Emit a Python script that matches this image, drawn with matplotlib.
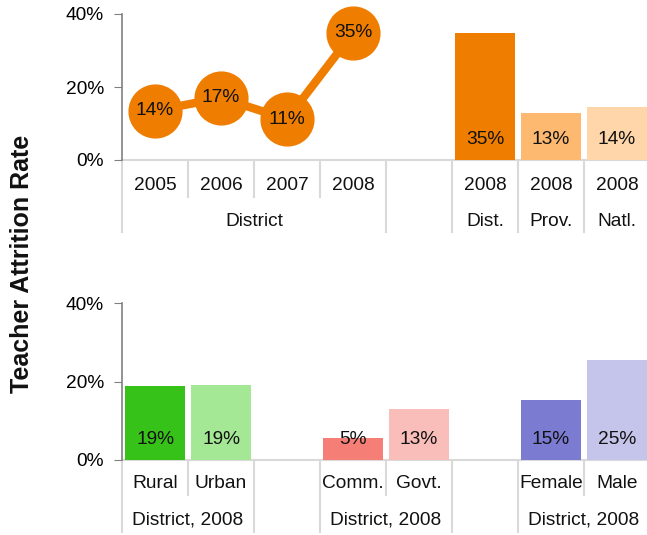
import matplotlib.pyplot as plt
from matplotlib import transforms

plt.rcParams['font.family'] = ['Liberation Sans', 'DejaVu Sans']

# top panel data
years = ['2005', '2006', '2007', '2008']
district_trend = [13.5, 17.0, 11.2, 34.8]
trend_labels = ['14%', '17%', '11%', '35%']
compare_top = ['2008', '2008', '2008']
compare_bottom = ['Dist.', 'Prov.', 'Natl.']
compare_values = [34.8, 12.9, 14.5]
compare_labels = ['35%', '13%', '14%']
compare_colors = ['#EF7D00', '#FDB96F', '#FED6A9']

# bottom panel data
groups = ['Rural', 'Urban', '', 'Comm.', 'Govt.', '', 'Female', 'Male']
group_values = [18.8, 19.1, None, 5.6, 13.0, None, 15.3, 25.4]
group_labels = ['19%', '19%', '', '5%', '13%', '', '15%', '25%']
group_colors = ['#37C21A', '#A4E795', None, '#F57F76', '#F9BEBA', None, '#7B7BD2', '#C5C4EA']
group_names = ['District, 2008', 'District, 2008', 'District, 2008']

yticks = [0, 20, 40]
ytick_labels = ['0%', '20%', '40%']

W, H = 647, 535
fig = plt.figure(figsize=(W / 100, H / 100), dpi=100)

ORANGE = '#EF7D00'
GRID = '#D9D9D9'
FS = 13.8


def make_axes(top_px, bottom_px):
    ax = fig.add_axes([122 / W, 1 - bottom_px / H, 528 / W, (bottom_px - top_px) / H])
    ax.set_xlim(-0.5, 7.5)
    ax.set_ylim(0, 40)
    for s in ['top', 'right', 'bottom']:
        ax.spines[s].set_visible(False)
    ax.spines['left'].set_color('#808080')
    ax.spines['left'].set_linewidth(1.2)
    ax.set_yticks(yticks)
    ax.set_yticklabels(ytick_labels, fontsize=FS)
    ax.tick_params(axis='y', length=6, color='#808080', pad=7)
    ax.set_xticks([])
    ax.axhline(0, color=GRID, lw=1.5, clip_on=False, zorder=1)
    return ax


def sep_line(ax, x, depth_px):
    trans = transforms.blended_transform_factory(ax.transData, ax.transAxes)
    h = ax.get_position().height * H
    ax.plot([x, x], [0, -depth_px / h], color=GRID, lw=1.5, transform=trans,
            clip_on=False, zorder=1)


def cat_label(ax, x, text, off_px):
    ax.annotate(text, xy=(x, 0), xycoords=('data', 'axes fraction'),
                xytext=(0, -off_px), textcoords='offset pixels',
                ha='center', va='center', fontsize=FS, color='#111111')


# ---- top panel ----
ax1 = make_axes(14, 160)
xs = list(range(len(years)))
ax1.plot(xs, district_trend, color=ORANGE, lw=6, marker='o', markersize=38,
         markerfacecolor=ORANGE, markeredgecolor=ORANGE, clip_on=False, zorder=3)
for x, v, t in zip(xs, district_trend, trend_labels):
    ax1.text(x, v, t, ha='center', va='center', fontsize=FS, color='#111111', zorder=4)

bx = [5, 6, 7]
ax1.bar(bx, compare_values, width=0.91, color=compare_colors, zorder=2, clip_on=False)
for x, t in zip(bx, compare_labels):
    ax1.annotate(t, xy=(x, 0), xycoords='data', xytext=(0, 20),
                 textcoords='offset pixels', ha='center', va='center',
                 fontsize=FS, color='#111111', zorder=4)

for x, t in zip(xs, years):
    cat_label(ax1, x, t, 25)
cat_label(ax1, 1.5, 'District', 61)
for x, t1, t2 in zip(bx, compare_top, compare_bottom):
    cat_label(ax1, x, t1, 25)
    cat_label(ax1, x, t2, 61)

sep_line(ax1, -0.5, 72)
for x in [0.5, 1.5, 2.5]:
    sep_line(ax1, x, 37)
for x in [3.5, 4.5, 5.5, 6.5, 7.5]:
    sep_line(ax1, x, 72)

# ---- bottom panel ----
ax2 = make_axes(303, 460)
for i, (v, c, t) in enumerate(zip(group_values, group_colors, group_labels)):
    if v is None:
        continue
    ax2.bar(i, v, width=0.91, color=c, zorder=2, clip_on=False)
    ax2.annotate(t, xy=(i, 0), xycoords='data', xytext=(0, 20),
                 textcoords='offset pixels', ha='center', va='center',
                 fontsize=FS, color='#111111', zorder=4)
for i, t in enumerate(groups):
    if t:
        cat_label(ax2, i, t, 23)
for x, t in zip([0.5, 3.5, 6.5], group_names):
    cat_label(ax2, x, t, 60)

for x in [-0.5, 1.5, 2.5, 4.5, 5.5, 7.5]:
    sep_line(ax2, x, 72)
for x in [0.5, 3.5, 6.5]:
    sep_line(ax2, x, 35)

fig.text(22 / W, 1 - 264 / H, 'Teacher Attrition Rate', rotation=90,
         ha='center', va='center', fontsize=18, fontweight='bold', color='#111111')

fig.savefig('out.png', dpi=100)
